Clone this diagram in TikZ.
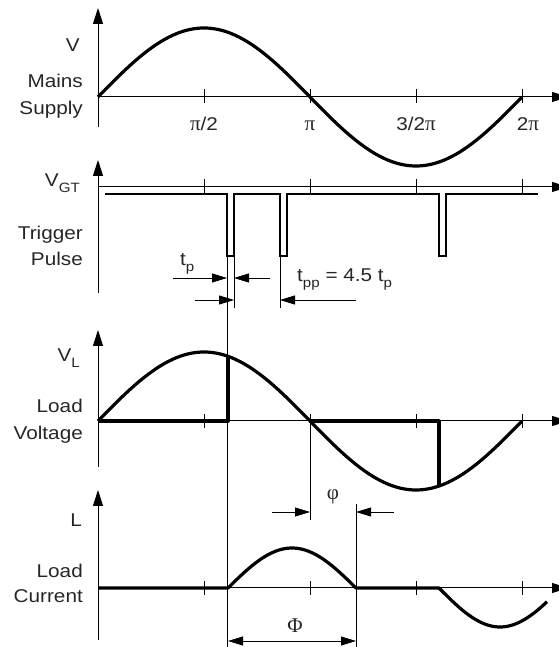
\documentclass[tikz,border=0pt]{standalone}
\usepackage{fontspec}
\setmainfont{Liberation Sans}[FakeStretch=1.12]
\newfontfamily\greekfont{Liberation Serif}
\usetikzlibrary{arrows.meta}

\newcommand{\lowsub}[1]{\raisebox{-6pt}{\fontsize{13.5}{13.5}\selectfont #1}}
\newcommand{\gr}[1]{{\greekfont\fontsize{21}{26}\selectfont #1}}

\tikzset{
  axis/.style={line width=1pt,-{Triangle[length=16pt,width=10pt]}},
  tick/.style={line width=.8pt},
  trace/.style={line width=3.2pt,line join=round},
  pulsetrace/.style={line width=2pt,line join=miter},
  dimline/.style={line width=.8pt},
  dimarrow/.style={line width=.8pt,-{Triangle[length=15pt,width=9pt]}},
  lbl/.style={font=\fontsize{18.5}{26}\selectfont,text=black!85,anchor=base east,inner sep=0pt},
  ticklbl/.style={font=\fontsize{18.5}{26}\selectfont,text=black!85,anchor=base,inner sep=0pt},
}

\begin{document}
\begin{tikzpicture}[x=1pt,y=1pt,line cap=butt]
  \useasboundingbox (0,0) rectangle (558,647);

  % mains supply
  \begin{scope}[shift={(98,550)}]
    \draw[axis] (0,-30) -- (0,89);
    \draw[axis] (0,0) -- (470,0);
    \foreach \t in {106,212,318,424} \draw[tick] (\t,-6) -- (\t,8);
    \draw[trace] plot[domain=0:424,samples=90,smooth] (\x,{69*sin(\x*0.84906)});
    \node[ticklbl] (halfpi) at (106,-34) {\gr{π}/2};
    \node[ticklbl] (onepi) at (212,-34) {\gr{π}};
    \node[ticklbl] (threehalfpi) at (318,-34) {3/2\gr{π}};
    \node[ticklbl] (twopi) at (430,-34) {2\gr{π}};
  \end{scope}
  \node[lbl] (mainsV) at (80,595) {V};
  \node[lbl] (mainsA) at (83,559) {Mains};
  \node[lbl] (mainsB) at (83,532) {Supply};

  % trigger pulse
  \begin{scope}[shift={(98,460)}]
    \draw[axis] (0,-106) -- (0,27);
    \draw[axis] (0,0) -- (470,0);
    \foreach \t in {106,212,318,424} \draw[tick] (\t,-6) -- (\t,8);
    \draw[pulsetrace] (7,-7) -- (129,-7) -- (129,-69) -- (136,-69) -- (136,-7)
      -- (182,-7) -- (182,-69) -- (189,-69) -- (189,-7)
      -- (341,-7) -- (341,-69) -- (348,-69) -- (348,-7) -- (440,-7);
  \end{scope}
  \node[lbl] (trigV) at (80,460) {V\lowsub{GT}};
  \node[lbl] (trigA) at (83,407) {Trigger};
  \node[lbl] (trigB) at (83,381) {Pulse};

  % pulse widths
  \coordinate (pOneL) at (227,391);
  \coordinate (pOneR) at (234,391);
  \coordinate (pTwoL) at (280,391);
  \coordinate (floor) at (227,0);
  \coordinate (tpA) at (173,369);
  \coordinate (tpB) at (227,369);
  \coordinate (tpC) at (270,369);
  \coordinate (tpD) at (234,369);
  \coordinate (tppA) at (195,347);
  \coordinate (tppB) at (234,347);
  \coordinate (tppC) at (356,347);
  \coordinate (tppD) at (280,347);
  \draw[dimline] (pOneL) -- (floor);
  \draw[dimline] (pOneR) -- ++(0,-52);
  \draw[dimline] (pTwoL) -- ++(0,-52);
  \draw[dimarrow] (tpA) -- (tpB);
  \draw[dimarrow] (tpC) -- (tpD);
  \draw[dimarrow] (tppA) -- (tppB);
  \draw[dimarrow] (tppC) -- (tppD);
  \node[ticklbl,anchor=base west] (tp) at (180,381) {t\lowsub{p}};
  \node[ticklbl,anchor=base west] (tpp) at (297,365) {t\lowsub{pp} = 4.5 t\lowsub{p}};

  % load voltage
  \begin{scope}[shift={(98,226)}]
    \draw[axis] (0,-46) -- (0,91);
    \draw[axis] (0,0) -- (470,0);
    \foreach \t in {106,212,318,424} \draw[tick] (\t,-7) -- (\t,7);
    \draw[trace] plot[domain=0:424,samples=90,smooth] (\x,{69*sin(\x*0.84906)});
    \draw[trace] (0,0) -- (130,0) -- (130,64.7);
    \draw[trace] (212,0) -- (341,0) -- (341,-65);
  \end{scope}
  \node[lbl] (loadV) at (80,285) {V\lowsub{L}};
  \node[lbl] (loadVA) at (83,234) {Load};
  \node[lbl] (loadVB) at (83,207) {Voltage};

  % phase lag
  \coordinate (zeroV) at (310,226);
  \coordinate (zeroI) at (356,143);
  \coordinate (phiA) at (272,135);
  \coordinate (phiB) at (310,135);
  \coordinate (phiC) at (394,135);
  \coordinate (phiD) at (356,135);
  \draw[dimline] (zeroV) -- ++(0,-99);
  \draw[dimline] (zeroI) -- ++(0,-143);
  \draw[dimarrow] (phiA) -- (phiB);
  \draw[dimarrow] (phiC) -- (phiD);
  \node[ticklbl] (phi) at (333,147) {\gr{φ}};

  % load current
  \begin{scope}[shift={(98,59)}]
    \draw[axis] (0,-52) -- (0,98);
    \draw[axis] (0,0) -- (470,0);
    \foreach \t in {106,212,318,424} \draw[tick] (\t,-7) -- (\t,7);
    \draw[trace] (0,0) -- (130,0)
      -- plot[domain=130:258,samples=40,smooth] (\x,{40*sin((\x-130)*1.40625)})
      -- (341,0)
      -- plot[domain=341:449,samples=40,smooth] (\x,{-39*sin((\x-341)*1.47541)});
  \end{scope}
  \node[lbl] (curL) at (82,120) {L};
  \node[lbl] (curA) at (83,69) {Load};
  \node[lbl] (curB) at (83,44) {Current};

  % conduction angle
  \coordinate (bigA) at (228,6);
  \coordinate (bigB) at (356,6);
  \draw[dimline,{Triangle[length=15pt,width=9pt]}-{Triangle[length=15pt,width=9pt]}] (bigA) -- (bigB);
  \node[ticklbl] (bigphi) at (295,14) {\gr{Φ}};
\end{tikzpicture}
\end{document}
